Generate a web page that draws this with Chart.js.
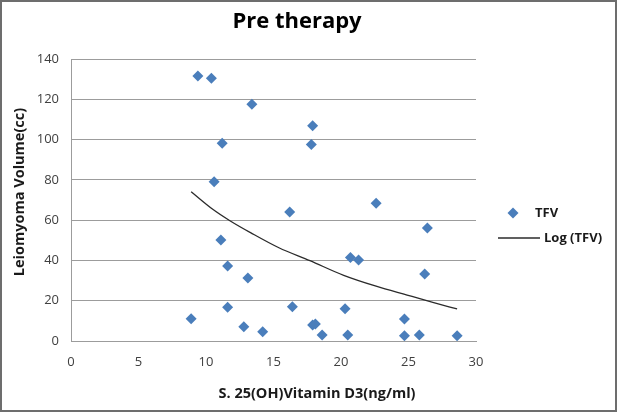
<!DOCTYPE html>
<html>
<head>
<meta charset="utf-8">
<title>Pre therapy</title>
<script src="https://cdn.jsdelivr.net/npm/chart.js@4/dist/chart.umd.min.js"></script>
<style>
  body { margin: 0; background: #fff; }
  canvas { display: block; }
</style>
</head>
<body>
<canvas id="scatter-chart" width="617" height="412"></canvas>
<script>
// values
const vitD = [9.4, 10.4, 13.4, 11.2, 10.6, 11.1, 11.6, 13.1, 11.6, 8.9, 12.8, 14.2,
              17.9, 17.8, 16.2, 22.6, 26.4, 20.7, 21.3, 26.2, 16.4, 20.3, 24.7, 17.9,
              18.1, 18.6, 20.5, 24.7, 25.8, 28.6];
const tfv = [131.5, 130.4, 117.5, 98.2, 79, 50.1, 37.2, 31.3, 16.7, 11.1, 7.1, 4.6,
             106.8, 97.5, 64.1, 68.4, 56.1, 41.5, 40.2, 33.3, 17.0, 16.0, 10.9, 7.9,
             8.4, 3.0, 3.0, 2.6, 3.0, 2.6];
// log trendline, points
const trendX = [8.9, 10.5, 11.8, 13.3, 15.4, 17.7, 20.2, 22.6, 24.9, 26.8, 28.6];
const trendY = [74.1, 65.4, 59.6, 53.8, 46.3, 39.9, 32.6, 27.2, 22.8, 19.2, 15.9];
const xTicks = [0, 5, 10, 15, 20, 25, 30];
const yTicks = [0, 20, 40, 60, 80, 100, 120, 140];

const ctx = document.getElementById("scatter-chart");
const FONT = "'Open Sans', sans-serif";
const BLUE = '#4a7ebb';
const TEXT = '#1a1a1a';

const points = vitD.map(function(v, i) { return { x: v, y: tfv[i] }; });
const trend = trendX.map(function(v, i) { return { x: v, y: trendY[i] }; });

// background, frame, title, axis titles and legend
const extras = {
  id: 'extras',
  beforeDraw: function(chart) {
    const c = chart.ctx;
    c.save();
    c.fillStyle = '#fff';
    c.fillRect(0, 0, chart.width, chart.height);
    c.restore();
  },
  afterDraw: function(chart) {
    const c = chart.ctx;
    c.save();
    c.strokeStyle = '#6d6d6d';
    c.lineWidth = 2;
    c.strokeRect(1, 1, chart.width - 2, chart.height - 2);

    c.textAlign = 'center';
    c.textBaseline = 'middle';
    c.fillStyle = '#000';
    c.font = "bold 22px " + FONT;
    c.fillText('Pre therapy', 297, 22);

    c.fillStyle = TEXT;
    c.font = "bold 14.5px " + FONT;
    c.fillText('S. 25(OH)Vitamin D3(ng/ml)', 317, 394);

    c.save();
    c.translate(20, 192);
    c.rotate(-Math.PI / 2);
    c.fillText('Leiomyoma Volume(cc)', 0, 0);
    c.restore();

    // legend
    const ds = chart.data.datasets;
    c.font = "bold 13px " + FONT;
    c.textAlign = 'left';
    c.fillStyle = BLUE;
    c.beginPath();
    c.moveTo(507.5, 213); c.lineTo(513, 207.5); c.lineTo(518.5, 213); c.lineTo(513, 218.5);
    c.closePath();
    c.fill();
    c.fillStyle = TEXT;
    c.fillText(ds[0].label, 535, 213);

    c.strokeStyle = ds[1].borderColor;
    c.lineWidth = 1.5;
    c.beginPath();
    c.moveTo(498, 238); c.lineTo(540, 238);
    c.stroke();
    c.fillText(ds[1].label, 544, 238);
    c.restore();
  }
};

const config = {
  type: 'scatter',
  data: {
    datasets: [{
      label: 'TFV',
      data: points,
      backgroundColor: BLUE,
      borderWidth: 0,
      pointStyle: 'rectRot',
      pointRadius: 5.5,
      pointHoverRadius: 5.5
    }, {
      label: 'Log (TFV)',
      data: trend,
      showLine: true,
      borderColor: '#2b2b2b',
      borderWidth: 1.3,
      pointRadius: 0,
      cubicInterpolationMode: 'monotone'
    }]
  },
  options: {
    responsive: false,
    animation: false,
    events: [],
    layout: { padding: { top: 59, left: 0, right: 141, bottom: 0 } },
    plugins: {
      legend: { display: false },
      tooltip: { enabled: false },
      title: { display: false }
    },
    scales: {
      x: {
        type: 'linear',
        min: 0,
        max: 30,
        afterFit: function(scale) { scale.height = 71; },
        afterBuildTicks: function(scale) {
          scale.ticks = xTicks.map(function(v) { return { value: v }; });
        },
        grid: { display: false, drawTicks: false },
        border: { display: true, color: '#9c9c9c', width: 1 },
        ticks: { padding: 13, color: '#404040', font: { family: FONT, size: 13 } }
      },
      y: {
        min: 0,
        max: 140,
        afterFit: function(scale) { scale.width = 71; },
        afterBuildTicks: function(scale) {
          scale.ticks = yTicks.map(function(v) { return { value: v }; });
        },
        grid: { color: '#9c9c9c', lineWidth: 1, drawTicks: false },
        border: { display: true, color: '#9c9c9c', width: 1 },
        ticks: { padding: 12, color: '#404040', font: { family: FONT, size: 13 } }
      }
    }
  },
  plugins: [extras]
};

var chart = new Chart(ctx, config);
</script>
</body>
</html>
